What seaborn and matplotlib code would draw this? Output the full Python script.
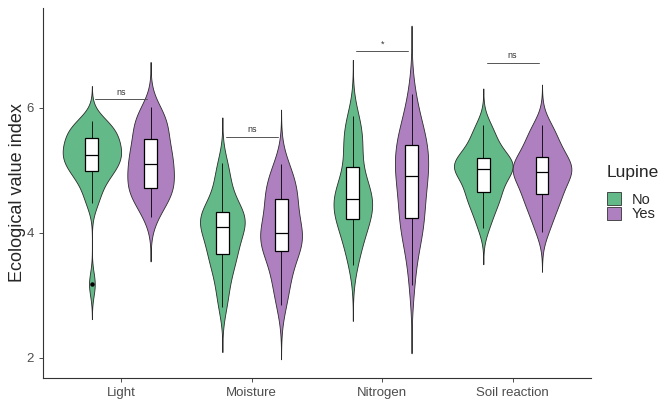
import matplotlib
matplotlib.use("Agg")
import matplotlib.pyplot as plt
from matplotlib.patches import Patch
import numpy as np
import pandas as pd
import seaborn as sns

# categories
indices = ["Light", "Moisture", "Nitrogen", "Soil reaction"]
lupine_levels = ["No", "Yes"]

light_no = [3.18, 4.48, 4.62, 4.78, 4.88, 4.95, 5.00, 5.05, 5.10, 5.15, 5.20, 5.23,
            5.27, 5.30, 5.35, 5.40, 5.45, 5.50, 5.55, 5.60, 5.65, 5.70, 5.75, 5.79]
light_yes = [4.26, 4.40, 4.52, 4.60, 4.65, 4.70, 4.73, 4.80, 4.88, 4.95, 5.02, 5.08,
             5.12, 5.20, 5.28, 5.33, 5.40, 5.48, 5.60, 5.68, 5.75, 5.82, 5.90, 6.02]
moisture_no = [2.82, 3.05, 3.25, 3.40, 3.52, 3.62, 3.67, 3.75, 3.85, 3.95, 4.02, 4.08,
               4.12, 4.18, 4.22, 4.26, 4.30, 4.32, 4.40, 4.50, 4.62, 4.78, 4.95, 5.12]
moisture_yes = [2.85, 3.05, 3.22, 3.38, 3.52, 3.65, 3.72, 3.80, 3.86, 3.92, 3.96, 3.99,
                4.01, 4.10, 4.22, 4.35, 4.45, 4.52, 4.60, 4.68, 4.76, 4.85, 4.98, 5.10]
nitrogen_no = [3.49, 3.70, 3.85, 3.98, 4.08, 4.18, 4.23, 4.30, 4.38, 4.44, 4.49, 4.52,
               4.56, 4.62, 4.70, 4.78, 4.88, 5.00, 5.24, 5.35, 5.48, 5.60, 5.72, 5.87]
nitrogen_yes = [3.17, 3.60, 3.85, 4.00, 4.12, 4.20, 4.25, 4.40, 4.55, 4.68, 4.80, 4.88,
                4.94, 5.02, 5.10, 5.18, 5.26, 5.40, 5.45, 5.50, 5.60, 5.72, 5.92, 6.22]
soil_no = [4.08, 4.25, 4.38, 4.48, 4.56, 4.62, 4.67, 4.75, 4.84, 4.92, 4.98, 5.01,
           5.03, 5.06, 5.09, 5.12, 5.16, 5.19, 5.24, 5.32, 5.42, 5.52, 5.62, 5.73]
soil_yes = [4.02, 4.18, 4.32, 4.42, 4.52, 4.58, 4.63, 4.70, 4.80, 4.88, 4.94, 4.97,
            4.99, 5.02, 5.06, 5.10, 5.15, 5.20, 5.28, 5.36, 5.45, 5.54, 5.64, 5.73]

# significance brackets
sig_labels = ["ns", "ns", "*", "ns"]
sig_heights = [6.14, 5.54, 6.91, 6.72]

palette = {"No": "#64B988", "Yes": "#AE80C0"}

groups = {
    ("Light", "No"): light_no, ("Light", "Yes"): light_yes,
    ("Moisture", "No"): moisture_no, ("Moisture", "Yes"): moisture_yes,
    ("Nitrogen", "No"): nitrogen_no, ("Nitrogen", "Yes"): nitrogen_yes,
    ("Soil reaction", "No"): soil_no, ("Soil reaction", "Yes"): soil_yes,
}
rows = []
for (idx, lup), vals in groups.items():
    for v in vals:
        rows.append({"index": idx, "lupine": lup, "value": v})
df = pd.DataFrame(rows)


def nrd0(kde):
    # R's bw.nrd0, expressed as a scipy kde factor
    x = kde.dataset[0]
    sd = x.std(ddof=1)
    q75, q25 = np.percentile(x, [75, 25])
    lo = min(sd, (q75 - q25) / 1.34)
    return 0.9 * lo * len(x) ** -0.2 / sd


sns.set_style("ticks")
plt.rcParams["font.family"] = ["Liberation Sans", "DejaVu Sans"]

fig, ax = plt.subplots(figsize=(6.61, 3.99), dpi=100)
fig.subplots_adjust(left=0.065, right=0.894, bottom=0.053, top=0.98)

sns.violinplot(data=df, x="index", y="value", hue="lupine", order=indices,
               hue_order=lupine_levels, palette=palette, saturation=1,
               width=0.9, gap=0, cut=3, inner=None, bw_method=nrd0,
               density_norm="area", linecolor="#2b2b2b", linewidth=0.6,
               legend=False, ax=ax)

sns.boxplot(data=df, x="index", y="value", hue="lupine", order=indices,
            hue_order=lupine_levels, palette={"No": "white", "Yes": "white"},
            saturation=1, width=0.9, gap=0.78, linecolor="black", linewidth=0.9,
            showcaps=False, fliersize=2.2,
            whiskerprops=dict(linewidth=0.6),
            flierprops=dict(marker="o", markerfacecolor="black", markeredgecolor="black"),
            legend=False, ax=ax)

for i, (lab, h) in enumerate(zip(sig_labels, sig_heights)):
    ax.plot([i - 0.2, i + 0.2], [h, h], color="#555555", lw=0.7)
    ax.text(i, h + 0.04, lab, ha="center", va="bottom", fontsize=6.5, color="#333333")

ax.set_xlim(-0.6, 3.6)
ax.set_ylim(1.68, 7.6)
ax.set_yticks([2, 4, 6])
ax.set_xlabel("")
ax.set_ylabel("Ecological value index", fontsize=13, labelpad=0.5)
ax.tick_params(axis="both", labelsize=9.5, colors="#4D4D4D", length=3, width=0.7)
for s in ["top", "right"]:
    ax.spines[s].set_visible(False)
for s in ["left", "bottom"]:
    ax.spines[s].set_color("#333333")
    ax.spines[s].set_linewidth(0.8)

handles = [Patch(facecolor=palette[l], edgecolor="#333333", lw=0.6, label=l)
           for l in lupine_levels]
leg = ax.legend(handles=handles, title="Lupine", loc="center left",
                bbox_to_anchor=(1.005, 0.5), frameon=False, fontsize=10.5,
                title_fontsize=12.5, handlelength=1.0, handleheight=1.0,
                handletextpad=0.7, labelspacing=0.0, alignment="left")
leg._legend_box.sep = 9

plt.savefig("out.png", dpi=100)
